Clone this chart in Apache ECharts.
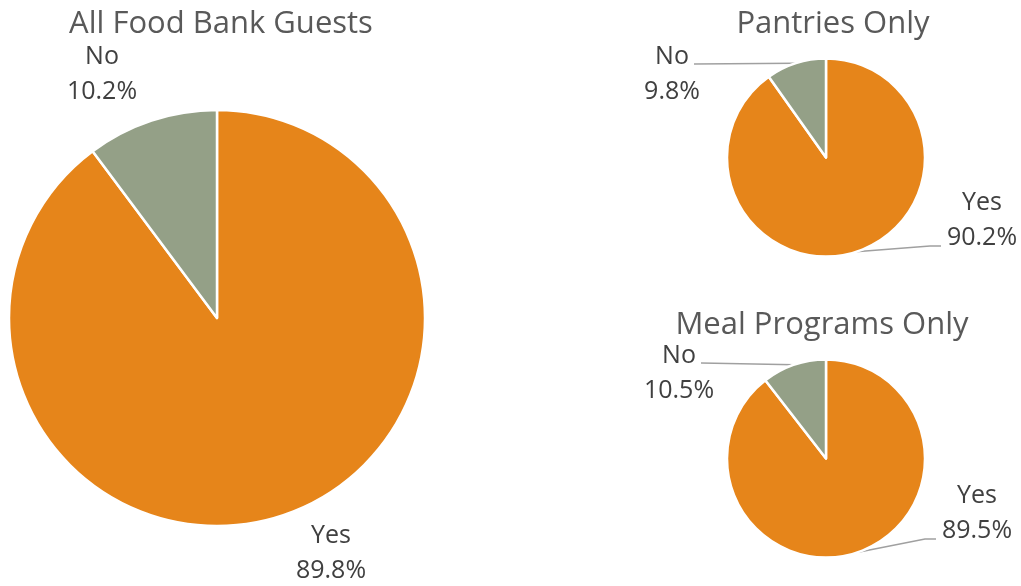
<!DOCTYPE html>
<html>
<head>
<meta charset="utf-8">
<script src="https://cdn.jsdelivr.net/npm/echarts@6/dist/echarts.min.js"></script>
<style>html,body{margin:0;padding:0;background:#fff}#c{width:1021px;height:586px}</style>
</head>
<body>
<div id="c"></div>
<script>
const categories = ['Yes', 'No'];
const chartTitles = ['All Food Bank Guests', 'Pantries Only', 'Meal Programs Only'];
const allGuests = [89.8, 10.2];
const pantriesOnly = [90.2, 9.8];
const mealProgramsOnly = [89.5, 10.5];

const ORANGE = '#E6851A', SAGE = '#94A087';
const FONT = '"Open Sans", sans-serif';

// label centres (Yes, No) per pie
const labelPos = [
  [[331, 553], [102, 74]],
  [[982, 220], [672, 74]],
  [[977, 513], [679, 373]]
];

function makePie(values, center, radius, idx, showLine) {
  return {
    type: 'pie',
    center: center,
    radius: radius,
    startAngle: 90,
    clockwise: true,
    avoidLabelOverlap: false,
    animation: false,
    silent: true,
    data: categories.map((c, i) => ({
      name: c, value: values[i],
      itemStyle: { color: i === 0 ? ORANGE : SAGE }
    })),
    itemStyle: { borderColor: '#fff', borderWidth: 2.5 },
    label: {
      show: true, position: 'outside',
      formatter: p => p.name + '\n' + p.value.toFixed(1) + '%',
      fontFamily: FONT, fontSize: 25, lineHeight: 35, color: '#404040'
    },
    labelLine: {
      show: showLine, length: 10, length2: 10, smooth: false,
      lineStyle: { color: '#A0A0A0', width: 1.5 }
    },
    labelLayout: function (p) {
      const pos = labelPos[idx][p.dataIndex];
      const out = { x: pos[0], y: pos[1], align: 'center', verticalAlign: 'middle' };
      if (showLine && p.labelLinePoints) {
        const p0 = p.labelLinePoints[0];
        if (p.dataIndex === 1) {
          out.labelLinePoints = [p0, [pos[0] + 22, pos[1] - 10]];
        } else {
          out.labelLinePoints = [p0, [pos[0] - 52, pos[1] + 26], [pos[0] - 41, pos[1] + 26]];
        }
      }
      return out;
    }
  };
}

const chart = echarts.init(document.getElementById('c'), null, { renderer: 'canvas' });
chart.setOption({
  backgroundColor: '#fff',
  title: [
    { text: chartTitles[0], left: 216, top: 4, textAlign: 'center' },
    { text: chartTitles[1], left: 828, top: 4, textAlign: 'center' },
    { text: chartTitles[2], left: 817, top: 305, textAlign: 'center' }
  ].map(t => Object.assign(t, {
    textStyle: { fontFamily: FONT, fontSize: 31, fontWeight: 'normal', color: '#595959' }
  })),
  series: [
    makePie(allGuests, [217, 318], 208, 0, false),
    makePie(pantriesOnly, [826, 157.5], 99, 1, true),
    makePie(mealProgramsOnly, [826, 458.5], 99, 2, true)
  ]
});
</script>
</body>
</html>
